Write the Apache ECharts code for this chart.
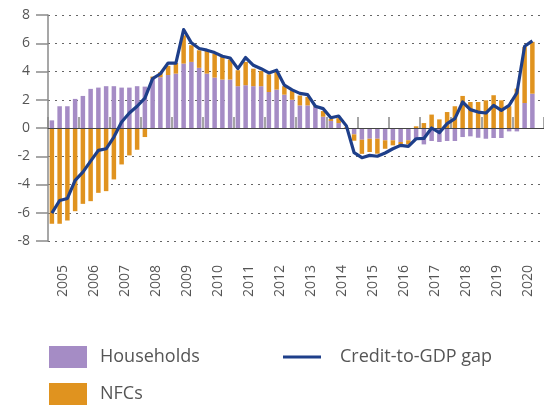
<!DOCTYPE html>
<html>
<head>
<meta charset="utf-8">
<script src="https://cdn.jsdelivr.net/npm/echarts@6/dist/echarts.min.js"></script>
<style>
  html, body { margin: 0; padding: 0; background: #fff; }
  #chart { width: 544px; height: 407px; }
</style>
</head>
<body>
<div id="chart"></div>
<script>
// tick labels (one per year, four quarters each)
const years = ['2005', '2006', '2007', '2008', '2009', '2010', '2011', '2012',
  '2013', '2014', '2015', '2016', '2017', '2018', '2019', '2020'];

// quarterly contributions, 2005Q1 .. 2020Q4 (last quarter empty)
const households = [
  0.54, 1.54, 1.54, 2.06, 2.27, 2.77, 2.86, 2.96,
  2.96, 2.86, 2.86, 2.96, 2.93, 3.5, 3.6, 3.75,
  3.85, 4.56, 4.68, 4.26, 3.85, 3.57, 3.43, 3.43,
  2.96, 3.03, 2.96, 2.96, 2.55, 2.72, 2.36, 2.0,
  1.6, 1.6, 1.5, 0.8, 0.5, 0.35, -0.05, -0.45,
  -0.83, -0.76, -0.76, -0.87, -0.87, -0.99, -0.87, -0.83,
  -1.16, -0.92, -0.99, -0.92, -0.92, -0.64, -0.59, -0.69,
  -0.76, -0.71, -0.71, -0.24, -0.24, 1.77, 2.43, null
];
const nfcs = [
  -6.78, -6.78, -6.55, -5.89, -5.37, -5.18, -4.59, -4.47,
  -3.64, -2.58, -1.94, -1.54, -0.64, 0.14, 0.35, 0.65,
  0.75, 2.0, 1.18, 1.24, 1.61, 1.7, 1.61, 1.42,
  1.13, 1.65, 1.24, 1.08, 1.25, 1.25, 0.6, 0.67,
  0.7, 0.6, 0.05, 0.4, 0.15, 0.35, 0.05, -0.45,
  -1.0, -0.94, -1.06, -0.6, -0.36, -0.24, -0.29, 0.12,
  0.35, 0.95, 0.61, 1.13, 1.54, 2.27, 1.84, 1.84,
  1.96, 2.32, 1.96, 1.54, 2.79, 3.97, 3.67, null
];
const gap = [
  -6.03, -5.13, -4.99, -3.71, -3.12, -2.34, -1.58, -1.47,
  -0.64, 0.43, 1.06, 1.54, 2.12, 3.5, 3.84, 4.6,
  4.6, 6.97, 6.03, 5.63, 5.51, 5.34, 5.08, 4.96,
  4.2, 4.99, 4.44, 4.2, 3.9, 4.09, 3.03, 2.7,
  2.45, 2.36, 1.54, 1.37, 0.73, 0.85, 0.15, -1.75,
  -2.1, -1.94, -2.0, -1.77, -1.47, -1.23, -1.3, -0.76,
  -0.74, 0.0, -0.33, 0.31, 0.66, 1.84, 1.3, 1.13,
  1.06, 1.6, 1.25, 1.6, 2.48, 5.79, 6.17, null
];

const quarters = [];
years.forEach(y => {
  for (let q = 1; q <= 4; q++) quarters.push(y + 'Q' + q);
});

const font = '"Open Sans", "Noto Sans", sans-serif';
const chart = echarts.init(document.getElementById('chart'));

chart.setOption({
  animation: false,
  textStyle: { fontFamily: font },
  grid: { left: 48, right: 0, top: 15, bottom: 166 },
  legend: [
    {
      orient: 'vertical',
      left: 49,
      top: 346,
      padding: 0,
      itemWidth: 38,
      itemHeight: 22,
      itemGap: 15,
      icon: 'rect',
      data: ['Households', 'NFCs'],
      textStyle: { fontSize: 18, color: '#555', lineHeight: 22, padding: [0, 0, 0, 8], fontFamily: font }
    },
    {
      left: 283,
      top: 346,
      padding: 0,
      itemWidth: 38,
      itemHeight: 3,
      data: [{ name: 'Credit-to-GDP gap', icon: 'rect' }],
      textStyle: { fontSize: 18, color: '#555', lineHeight: 22, padding: [0, 0, 0, 14], fontFamily: font }
    }
  ],
  xAxis: [
    {
      type: 'category',
      data: quarters,
      z: 3,
      axisLine: { onZero: true, lineStyle: { color: '#444', width: 1 } },
      axisTick: { show: true, inside: true, length: 11, interval: 3, lineStyle: { color: '#888', width: 1.5 } },
      axisLabel: { show: true, interval: 3, color: 'rgba(0,0,0,0)', fontSize: 1 },
      splitLine: { show: false }
    },
    {
      type: 'category',
      data: years,
      position: 'bottom',
      axisLine: { show: false, onZero: false },
      axisTick: { show: false },
      axisLabel: { rotate: 90, margin: 24, fontSize: 14, color: '#555', fontFamily: font },
      splitLine: { show: false }
    }
  ],
  yAxis: {
    type: 'value',
    min: -8,
    max: 8,
    interval: 2,
    axisLine: { show: true, lineStyle: { color: '#8a8a8a', width: 1.5 } },
    axisTick: { show: true, length: 12, lineStyle: { color: '#8a8a8a', width: 1.5 } },
    axisLabel: { margin: 18, fontSize: 14, color: '#555', fontFamily: font },
    splitLine: { lineStyle: { color: '#666', width: 1.2, type: [2, 5] } }
  },
  series: [
    {
      name: 'Households',
      type: 'bar',
      stack: 'total',
      barWidth: '58%',
      data: households,
      itemStyle: { color: '#a58cc5' }
    },
    {
      name: 'NFCs',
      type: 'bar',
      stack: 'total',
      barWidth: '58%',
      data: nfcs,
      itemStyle: { color: '#e0931f' }
    },
    {
      name: 'Credit-to-GDP gap',
      type: 'line',
      data: gap,
      symbol: 'none',
      z: 5,
      lineStyle: { color: '#1e3f8a', width: 3.2, join: 'round' },
      itemStyle: { color: '#1e3f8a' }
    }
  ]
});
</script>
</body>
</html>
